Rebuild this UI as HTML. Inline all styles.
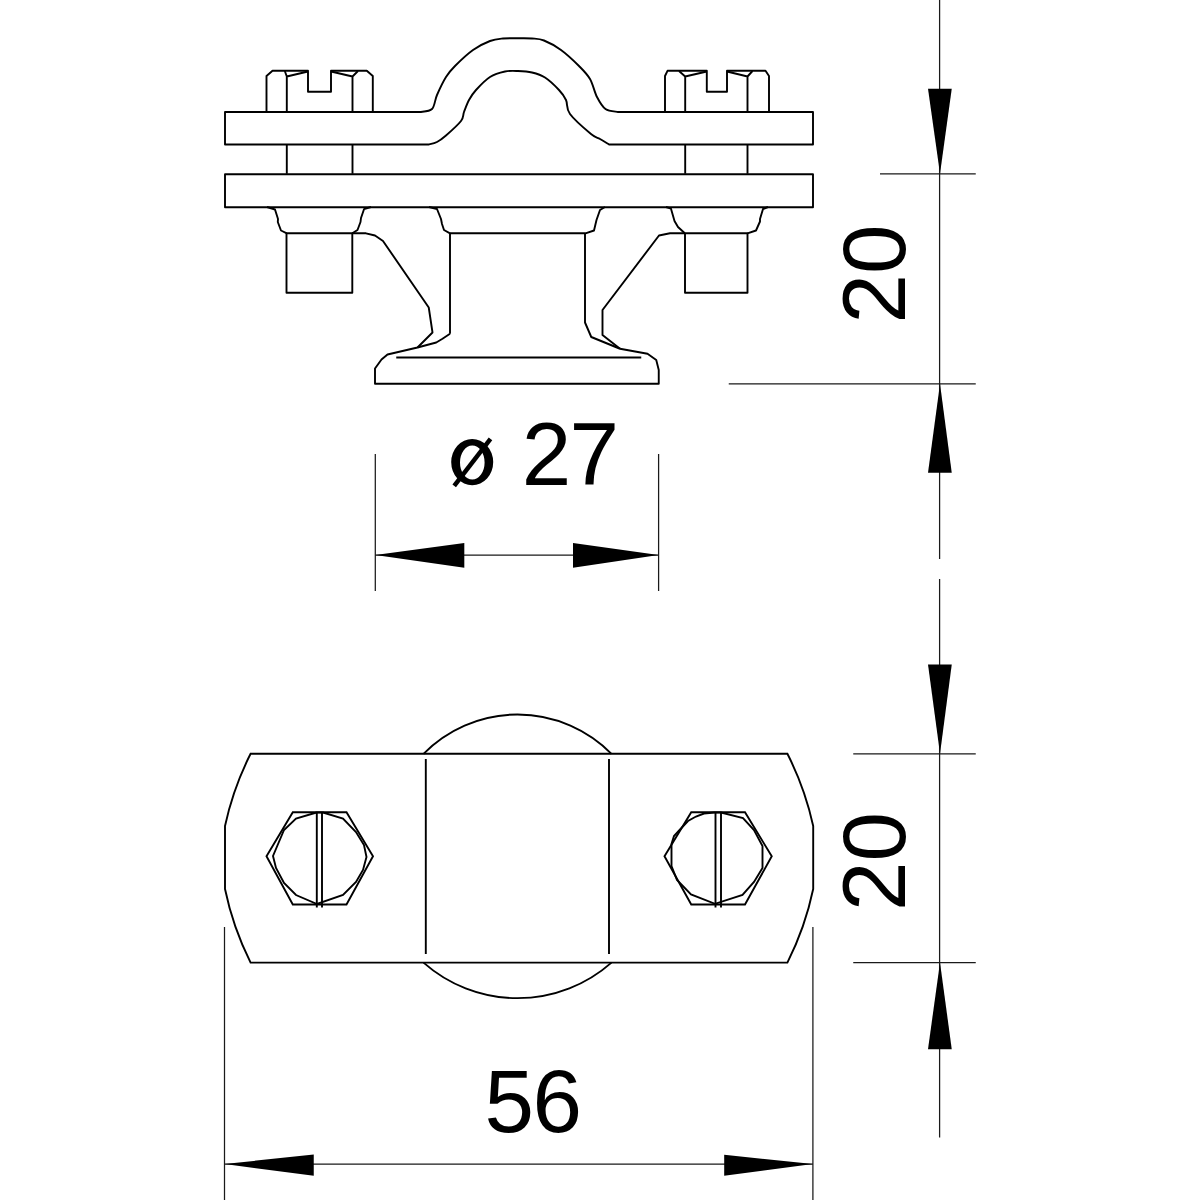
<!DOCTYPE html>
<html><head><meta charset="utf-8"><style>
html,body{margin:0;padding:0;background:#fff;width:1200px;height:1200px;overflow:hidden}
svg{display:block}
</style></head><body>
<svg width="1200" height="1200" viewBox="0 0 1200 1200">
<rect x="0" y="0" width="1200" height="1200" fill="#fff"/>
<g fill="none" stroke="#000" stroke-width="1.9" stroke-linejoin="round" stroke-linecap="butt">
<!-- ============ TOP VIEW ============ -->
<!-- upper strap with arch -->
<path d="M225,112 L420,112 C422.00,111.50 429.17,111.83 432.00,109.00 C434.83,106.17 434.67,100.33 437.00,95.00 C439.33,89.67 443.00,81.83 446.00,77.00 C449.00,72.17 450.50,70.50 455.00,66.00 C459.50,61.50 467.17,54.17 473.00,50.00 C478.83,45.83 485.00,42.92 490.00,41.00 C495.00,39.08 498.33,38.95 503.00,38.50 C507.67,38.05 513.17,38.30 518.00,38.30 C522.83,38.30 527.67,38.13 532.00,38.50 C536.33,38.87 539.17,38.58 544.00,40.50 C548.83,42.42 555.17,45.75 561.00,50.00 C566.83,54.25 574.17,61.17 579.00,66.00 C583.83,70.83 587.00,73.83 590.00,79.00 C593.00,84.17 594.42,92.00 597.00,97.00 C599.58,102.00 602.00,106.50 605.50,109.00 C609.00,111.50 615.92,111.50 618.00,112.00 L813,112 L813,144.5 L609,144.5 C607.50,143.58 603.00,140.75 600.00,139.00 C597.00,137.25 596.00,138.17 591.00,134.00 C586.00,129.83 574.17,119.67 570.00,114.00 C565.83,108.33 567.83,104.00 566.00,100.00 C564.17,96.00 562.50,93.75 559.00,90.00 C555.50,86.25 549.50,80.42 545.00,77.50 C540.50,74.58 536.50,73.58 532.00,72.50 C527.50,71.42 522.50,71.17 518.00,71.00 C513.50,70.83 509.67,70.50 505.00,71.50 C500.33,72.50 494.83,73.92 490.00,77.00 C485.17,80.08 479.50,86.17 476.00,90.00 C472.50,93.83 471.00,96.33 469.00,100.00 C467.00,103.67 465.33,108.50 464.00,112.00 C462.67,115.50 464.00,117.08 461.00,121.00 C458.00,124.92 450.00,132.00 446.00,135.50 C442.00,139.00 439.92,140.50 437.00,142.00 C434.08,143.50 429.92,144.08 428.50,144.50 L225,144.5 Z"/>
<!-- lower strap -->
<rect x="225" y="174.2" width="588" height="33"/>
<!-- left bolt head -->
<path d="M266.5,112 V76 L272.5,70.8 H308 V91.8 H331 V70.8 H366.8 L372.8,76 V112"/>
<path d="M286.8,112 V76.5 L284.8,71 M286.8,76.5 L308,71.5 M352.5,112 V76.5 L331,71.5 M352.5,76.5 L358,71"/>
<!-- left shaft between plates -->
<path d="M286.8,144.5 V173.8 M352.5,144.5 V173.8"/>
<!-- right bolt head -->
<path d="M665,112 V76 L667.5,70.8 H706.8 V91.8 H727 V70.8 H765.5 L769,76 V112"/>
<path d="M685.2,112 V76.5 L679,71 M685.2,76.5 L706.8,71.5 M747.5,112 V76.5 L727,71.5 M747.5,76.5 L752.5,71"/>
<path d="M685.2,144.5 V173.8 M747.5,144.5 V173.8"/>
<!-- left washer + nut -->
<path d="M267,207 L275,209.5 L278,219 L277.8,222 L281,230.5 L286.8,233.3 M352.3,233.3 L357.5,230 L360.5,222 L361,218 L364,209.2 L371,207"/>
<rect x="286.5" y="233.3" width="65.8" height="59.4"/>
<!-- right washer + nut -->
<path d="M666,207 L671,208.7 L674.5,221 L678,227 L684.8,233.3 M747.5,233.3 L756,230.5 L760,221.5 L760,219 L763,209 L768,207"/>
<rect x="685" y="233.3" width="62.5" height="59.4"/>
<!-- centre boss -->
<path d="M429,207 L437,209 L441,219 L442,224 L444,230 L450,233.3 L585.5,233.3 L594,230.5 L596.5,220 L600,210 L605,207"/>
<path d="M450,233.3 V333.75 M585,233.3 V322.5 L591.25,337 L620,348.75"/>
<!-- left leg -->
<path d="M352.3,233.3 L366,233.3 L375,235.5 L383,241 L428.75,307.5 L432.5,332.5 L417.5,347.5"/>
<path d="M450,333.75 L442.5,338.75 L436.25,342.5 L417.5,347.5 L387.5,354.5 L381.5,359.5 L375,368.5 V383.75 H658.75 V370 L656.25,360 L647.5,353.75 L620,348.75"/>
<!-- right leg -->
<path d="M685,233.3 L670,233.3 L659,235.5 L602.5,310 V335 L620,348.75"/>
<path d="M396.25,357.5 H641.25"/>
</g>

<!-- ============ BOTTOM VIEW ============ -->
<g fill="none" stroke="#000" stroke-width="1.9">
<path d="M250.6,753.8 H787.4 A300,300 0 0 1 813.2,826 V889 A300,300 0 0 1 787.4,962.6 H250.6 A300,300 0 0 1 225,889 V826 A300,300 0 0 1 250.6,753.8 Z"/>
<path d="M423.5,753.8 A132,132 0 0 1 611.5,753.8"/>
<path d="M423.5,962.6 A142,142 0 0 0 611.5,962.6"/>
<path d="M425.8,759 V954 M609,759 V954"/>
<!-- left hex -->
<path d="M266.5,856.3 L292.8,812.2 H346.5 L373,856.3 L346.5,904.5 H292.8 Z"/>
<path d="M316.5,812.5 L296,818.5 L284,830 L273,856 L276,868 L284,883 L296,895 L317,904 L343,895 L356,882 L363,870 L366.5,857 L364,845 L356,832 L343,818.5 L323,812.5 Z"/>
<path d="M316.8,812.5 V907.5 M322,812.5 V907.5"/>
<!-- right hex -->
<path d="M664.5,856.3 L691.25,812.2 H745 L771.75,856.3 L745,904.5 H691.25 Z"/>
<path d="M714.5,812.5 L704,813.5 L696,816.5 L688,821 L680.5,829 L674,836 L671.5,844 L671.5,866 L677,880 L691,894.5 L715,903.8 L742.5,895 L754,882 L762.5,868 L762.5,846 L754,830 L743,818 L721,812.5 Z"/>
<path d="M715.5,812.5 V907.5 M721,812.5 V907.5"/>
</g>

<!-- ============ DIMENSIONS ============ -->
<g fill="none" stroke="#1a1a1a" stroke-width="1.25">
<!-- vertical dimension line -->
<path d="M939.6,0 V559 M939.6,579 V1137.5"/>
<path d="M880,173.8 H975.75 M728.75,383.75 H975.75"/>
<path d="M853.25,753.8 H975.75 M853.25,962.5 H975.75"/>
<!-- dia 27 -->
<path d="M375.3,454 V591 M658.6,454 V591 M375.3,555 H658.6"/>
<!-- 56 -->
<path d="M224.5,927 V1200 M812.9,927 V1200 M224.5,1164 H812.9"/>
</g>
<g fill="#000" stroke="none">
<path d="M928,88.75 H951.75 L940,173.8 Z"/>
<path d="M940,383.75 L951.75,472.7 H928 Z"/>
<path d="M928,664.5 H951.75 L940,753.8 Z"/>
<path d="M940,962.5 L951.75,1049.25 H928 Z"/>
<path d="M375.3,555 L464.3,543 V567.8 Z"/>
<path d="M658.6,555 L573,543 V567.8 Z"/>
<path d="M224.5,1164 L313.75,1154.5 V1175.75 Z"/>
<path d="M812.9,1164 L724.2,1154.8 V1175.8 Z"/>
<!-- diameter symbol -->
<path fill-rule="evenodd" d="M472.2,438.9 A21,23.15 0 1 1 472.2,485.2 A21,23.15 0 1 1 472.2,438.9 Z M472.3,445.4 A12.3,17 0 1 0 472.3,479.4 A12.3,17 0 1 0 472.3,445.4 Z"/>
<path d="M454.2,485.8 L490.5,438.9" stroke="#000" stroke-width="4.5"/>
</g>
<g font-family="Liberation Sans" font-size="89" fill="#000">
<text x="521.8" y="484.5">2<tspan dx="-1.8">7</tspan></text>
<text x="484.5" y="1132.3">5<tspan dx="-1.6">6</tspan></text>
<text transform="translate(904.5,323.5) rotate(-90)" x="0" y="0">20</text>
<text transform="translate(904.5,911) rotate(-90)" x="0" y="0">20</text>
</g>
</svg>
</body></html>
